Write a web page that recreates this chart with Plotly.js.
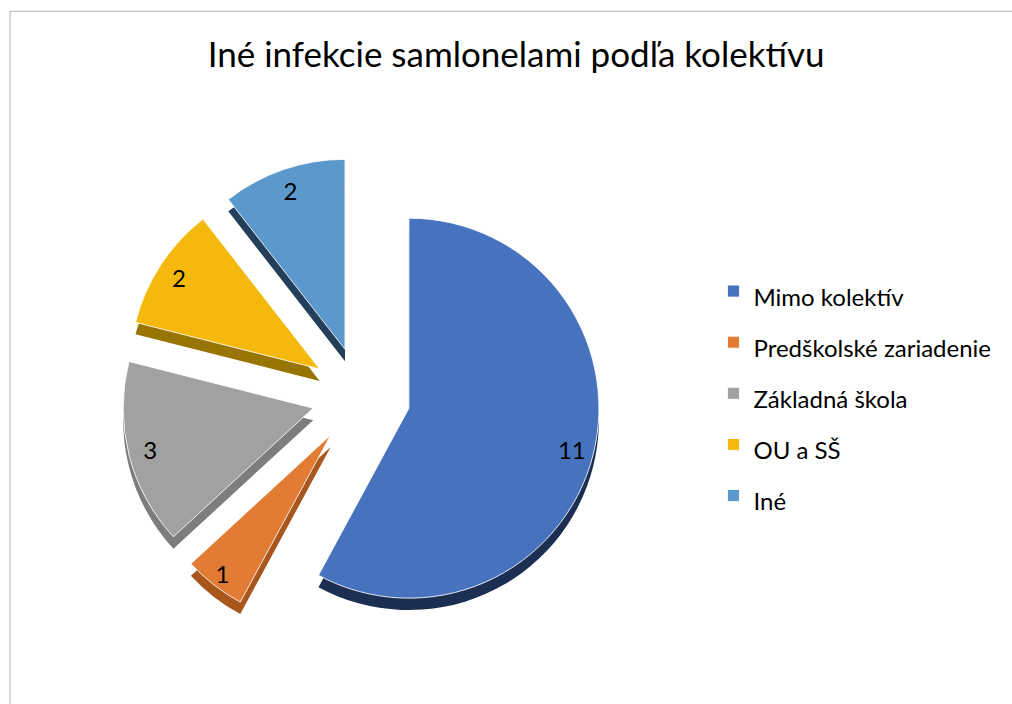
<!DOCTYPE html>
<html>
<head>
<meta charset="utf-8">
<script src="https://cdn.plot.ly/plotly-3.0.1.min.js"></script>
<style>
    body { margin: 0; background: #fff; }
    #pieChart { width: 1012px; height: 704px; }
</style>
</head>
<body>
<div id="pieChart"></div>
<script>
// data
const labels = ['Mimo kolektív', 'Predškolské zariadenie', 'Základná škola', 'OU a SŠ', 'Iné'];
const values = [11, 1, 3, 2, 2];
const faceColors = ['#4672be', '#e27c34', '#a1a1a1', '#f4b90c', '#5b98cc'];
const sideColors = ['#1c2e52', '#a8561c', '#7d7d7d', '#987400', '#233f59'];

PIECHART = document.getElementById('pieChart');

// pie box, shared by the face and side layers
var pieX = [0.1202, 0.5933];
var pieY = [0.0974, 0.7775];
var depth = 0.017; // fake 3d side, shifted down

// slightly bigger box for the label ring, same center and same pull distance
var labelX = [0.1053, 0.6081];
var labelY = [0.0761, 0.7988];

// legend spacing in plotly comes from legend font size, so text is sized per item
var legendLabels = labels.map(function(l){
    return '<span style="font-size:24px">' + l + '</span>';
});

var sideTrace = {
    type: 'pie',
    labels: legendLabels,
    values: values,
    sort: false,
    direction: 'clockwise',
    rotation: 0,
    pull: 0.26,
    domain: {x: pieX, y: [pieY[0] - depth, pieY[1] - depth]},
    marker: {colors: sideColors, line: {width: 0}},
    textinfo: 'none',
    showlegend: false,
    hoverinfo: 'skip',
};

var faceTrace = {
    type: 'pie',
    labels: legendLabels,
    values: values,
    sort: false,
    direction: 'clockwise',
    rotation: 0,
    pull: 0.26,
    domain: {x: pieX, y: pieY},
    marker: {
        colors: faceColors,
        line: {color: 'rgba(255,255,255,0.85)', width: 1},
    },
    textinfo: 'none',
    hoverinfo: 'skip',
};

// transparent ring only to put the value labels near the outer edge
var labelTrace = {
    type: 'pie',
    labels: legendLabels,
    values: values,
    sort: false,
    direction: 'clockwise',
    rotation: 0,
    pull: 0.241,
    hole: 0.64,
    domain: {x: labelX, y: labelY},
    marker: {colors: ['rgba(0,0,0,0)','rgba(0,0,0,0)','rgba(0,0,0,0)','rgba(0,0,0,0)','rgba(0,0,0,0)'], line: {width: 0}},
    textinfo: 'value',
    textposition: 'inside',
    insidetextorientation: 'horizontal',
    textfont: {family: 'Lato, sans-serif', size: 24, color: '#000'},
    showlegend: false,
    hoverinfo: 'skip',
};

var pielayout = {
    title: {
        text: 'Iné infekcie samlonelami podľa kolektívu',
        font: {family: 'Lato, sans-serif', size: 35, color: '#000'},
        x: 0.51,
        xanchor: 'center',
        y: 0.922,
        yanchor: 'middle',
    },
    showlegend: true,
    legend: {
        x: 0.705,
        xanchor: 'left',
        y: 0.441,
        yanchor: 'middle',
        font: {family: 'Lato, sans-serif', size: 37, color: '#000'},
        bgcolor: 'rgba(0,0,0,0)',
    },
    font: {family: 'Lato, sans-serif', color: '#000'},
    width: 1012,
    height: 704,
    margin: {l: 0, r: 0, t: 0, b: 0},
    paper_bgcolor: '#fff',
    shapes: [{
        // chart area border, only left and top edges are inside the picture
        type: 'rect',
        xref: 'paper', yref: 'paper',
        x0: 0.0099, x1: 1.05, y0: -0.05, y1: 0.984,
        line: {color: '#b3b3b3', width: 1},
        fillcolor: 'rgba(0,0,0,0)',
        layer: 'below',
    }],
};

var pieconfig = {
    displayModeBar: false,
    staticPlot: true,
};

Plotly.newPlot(PIECHART, [sideTrace, faceTrace, labelTrace], pielayout, pieconfig);
</script>
</body>
</html>
